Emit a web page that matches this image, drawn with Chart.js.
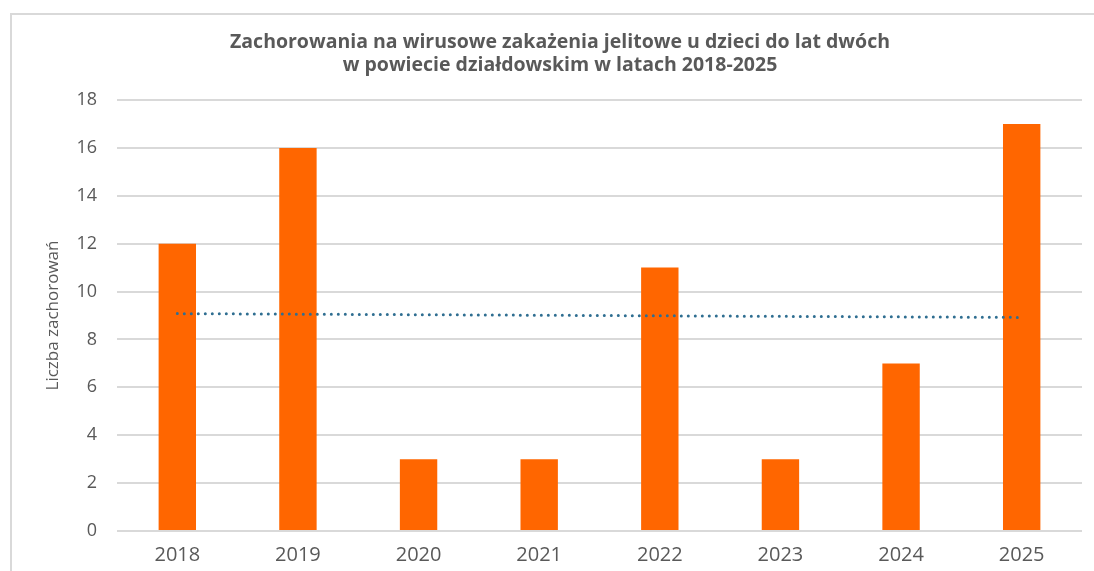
<!DOCTYPE html>
<html>
<head>
<meta charset="utf-8">
<script src="https://cdn.jsdelivr.net/npm/chart.js@4"></script>
<style>
  html, body { margin: 0; padding: 0; background: #fff; overflow: hidden; }
  #wrap { position: relative; width: 1094px; height: 571px; }
  #frame { position: absolute; left: 10px; top: 13px; width: 1100px; height: 600px; border: 2px solid #d9d9d9; }
  canvas { position: absolute; left: 0; top: 0; }
</style>
</head>
<body>
<div id="wrap">
  <div id="frame"></div>
  <canvas id="bar-chart" width="1094" height="571"></canvas>
</div>
<script>
const years = ['2018', '2019', '2020', '2021', '2022', '2023', '2024', '2025'];
const cases = [12, 16, 3, 3, 11, 3, 7, 17];
// linear trend line at its two ends
const trend = [9.08, null, null, null, null, null, null, 8.92];
const yTicks = [0, 2, 4, 6, 8, 10, 12, 14, 16, 18];

const grey = '#595959';
const font = 'Open Sans';

const ctx = document.getElementById('bar-chart').getContext('2d');

new Chart(ctx, {
    type: 'bar',
    data: {
        labels: years,
        datasets: [{
            type: 'line',
            label: 'Trend',
            data: trend,
            spanGaps: true,
            borderColor: '#2f6e91',
            borderWidth: 3,
            borderDash: [0, 7],
            borderCapStyle: 'round',
            pointRadius: 0,
            fill: false,
            order: 0
        }, {
            label: 'Liczba zachorowań',
            data: cases,
            backgroundColor: '#ff6600',
            categoryPercentage: 1,
            barPercentage: 0.31,
            order: 1
        }]
    },
    options: {
        responsive: false,
        animation: false,
        layout: {
            padding: { left: 38, right: 12, top: 31, bottom: 4 }
        },
        plugins: {
            legend: { display: false },
            tooltip: { enabled: false },
            title: {
                display: true,
                text: ['Zachorowania na wirusowe zakażenia jelitowe u dzieci do lat dwóch',
                       'w powiecie działdowskim w latach 2018-2025'],
                color: grey,
                font: { family: font, size: 19.5, weight: 'bold', lineHeight: 1.18 },
                padding: { top: 0, bottom: 23 }
            }
        },
        scales: {
            x: {
                afterFit: (scale) => { scale.height = 36; },
                grid: { display: false, drawTicks: false },
                border: { display: false },
                ticks: {
                    color: grey,
                    font: { family: font, size: 20, lineHeight: 1.2 },
                    padding: 12
                }
            },
            y: {
                min: 0,
                max: 18,
                afterBuildTicks: (scale) => {
                    scale.ticks = yTicks.map(v => ({ value: v }));
                },
                afterFit: (scale) => { scale.width = 79; },
                grid: { color: '#d9d9d9', lineWidth: 2, drawTicks: false },
                border: { display: false },
                ticks: {
                    color: grey,
                    font: { family: font, size: 18 },
                    padding: 20
                },
                title: {
                    display: true,
                    text: 'Liczba zachorowań',
                    color: grey,
                    font: { family: font, size: 17 },
                    padding: { top: 5, bottom: 0 }
                }
            }
        }
    }
});
</script>
</body>
</html>
